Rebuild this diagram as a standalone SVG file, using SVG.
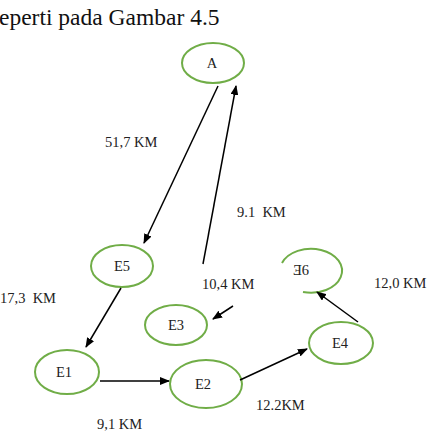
<svg xmlns="http://www.w3.org/2000/svg" width="431" height="433" viewBox="0 0 431 433">
<defs>
<style>
.n{fill:none;stroke:#70ad47;stroke-width:2}
.t{font-size:14.5px;fill:#222}
.c{stroke:#000;stroke-width:1.5;fill:none;marker-end:url(#ah)}
</style>
<marker id="ah" markerWidth="10" markerHeight="8" refX="9" refY="4" orient="auto" markerUnits="userSpaceOnUse">
<path d="M0,0 L10,4 L0,8 Z" fill="#000"/>
</marker>
</defs>
<rect width="431" height="433" fill="#fff"/>
<g font-family="Liberation Serif, Times New Roman, serif">
<text x="-1" y="25" font-size="23.5" fill="#111">eperti pada Gambar 4.5</text>
<g id="A"><ellipse class="n" cx="213" cy="63" rx="31" ry="20"/><text class="t" x="212" y="68" text-anchor="middle">A</text></g>
<g id="E5"><ellipse class="n" cx="122" cy="266" rx="31" ry="21"/><text class="t" x="122" y="271" text-anchor="middle">E5</text></g>
<g id="E3"><ellipse class="n" cx="176" cy="325" rx="31" ry="20"/><text class="t" x="176" y="330" text-anchor="middle">E3</text></g>
<g id="E6"><path class="n" d="M282,263 A31,22 0 1 1 303,292"/><text class="t" x="301" y="275" text-anchor="middle">Ǝ6</text></g>
<g id="E4"><ellipse class="n" cx="341" cy="343" rx="32" ry="21"/><text class="t" x="340" y="348" text-anchor="middle">E4</text></g>
<g id="E1"><ellipse class="n" cx="67" cy="372" rx="32" ry="22"/><text class="t" x="64" y="377" text-anchor="middle">E1</text></g>
<g id="E2"><ellipse class="n" cx="206" cy="384" rx="36" ry="24"/><text class="t" x="203" y="389" text-anchor="middle">E2</text></g>
<g id="connectors">
<line class="c" x1="218" y1="86" x2="144" y2="243"/>
<line class="c" x1="203" y1="264" x2="236" y2="86"/>
<line class="c" x1="121" y1="288" x2="86" y2="347"/>
<line class="c" x1="100" y1="381" x2="169" y2="381"/>
<line class="c" x1="240" y1="380" x2="307" y2="349"/>
<line class="c" x1="358" y1="322" x2="317" y2="292"/>
<line class="c" x1="233" y1="306" x2="213" y2="319"/>
</g>
<g id="labels">
<text class="t" x="105" y="147">51,7 KM</text>
<text class="t" x="237" y="217" xml:space="preserve">9.1  KM</text>
<text class="t" x="202" y="289">10,4 KM</text>
<text class="t" x="0" y="303" xml:space="preserve">17,3  KM</text>
<text class="t" x="374" y="288">12,0 KM</text>
<text class="t" x="256" y="410">12.2KM</text>
<text class="t" x="97" y="429">9,1 KM</text>
</g>
</g>
</svg>
